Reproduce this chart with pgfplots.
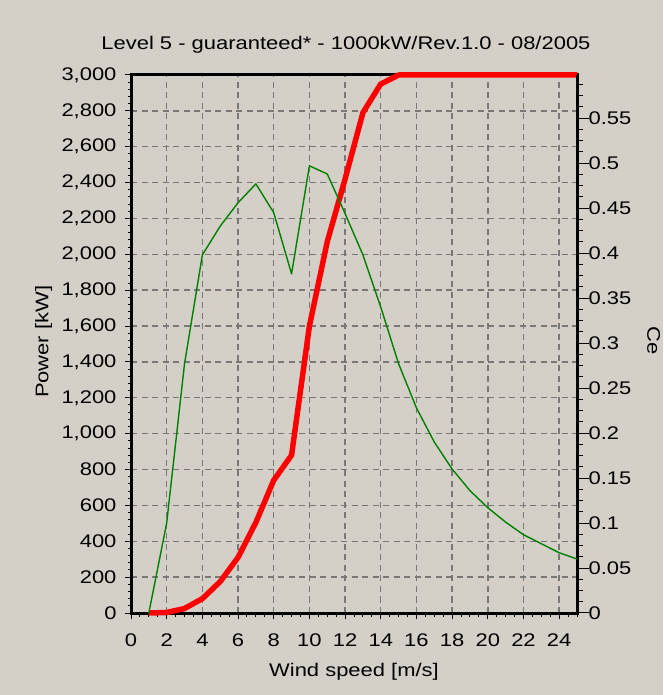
\documentclass[border=0pt]{standalone}
\usepackage{fontspec}
\setmainfont{Liberation Sans}[FakeStretch=1.2]
\usepackage{pgfplots}
\pgfplotsset{compat=1.18}
\definecolor{bg}{RGB}{212,208,200}
\definecolor{gridc}{RGB}{120,120,120}
\definecolor{cegreen}{RGB}{0,128,0}
\newcommand{\cf}{\fontsize{18.3}{21}\selectfont}

\pgfplotstableread{
x P
1 0
2 3
3 25
4 80
5 175
6 310
7 505
8 740
9 880
10 1600
11 2070
12 2420
13 2790
14 2950
15 3000
16 3000
17 3000
18 3000
19 3000
20 3000
21 3000
22 3000
23 3000
24 3000
25 3000
}\powertable

\pgfplotstableread{
x Ce
1 0
2 0.100
3 0.277
4 0.398
5 0.430
6 0.456
7 0.477
8 0.445
9 0.377
10 0.497
11 0.488
12 0.444
13 0.398
14 0.340
15 0.277
16 0.228
17 0.190
18 0.160
19 0.136
20 0.117
21 0.101
22 0.087
23 0.077
24 0.067
25 0.060
}\cetable

\begin{document}
\begin{tikzpicture}
\fill[bg] (0,0) rectangle (663pt,695pt);
\begin{axis}[
  at={(131pt,82pt)}, anchor=south west,
  width=446pt, height=538pt, scale only axis,
  xmin=0, xmax=25, ymin=0, ymax=3000,
  clip=false,
  axis line style={line width=3pt, black},
  xtick={0,2,...,24},
  xticklabels={0,2,4,6,8,10,12,14,16,18,20,22,24},
  minor xtick={0,0.5,...,25},
  ytick={0,200,...,3000},
  yticklabels={0,200,400,600,800,{1,000},{1,200},{1,400},{1,600},{1,800},{2,000},{2,200},{2,400},{2,600},{2,800},{3,000}},
  minor ytick={0,40,...,3000},
  xtick pos=bottom, ytick pos=left, tick align=outside,
  major tick length=6pt, minor tick length=3.5pt,
  every tick/.style={black, line width=1pt},
  grid=major,
  major grid style={gridc, line width=1.4pt, dash pattern=on 6pt off 4.5pt},
  tick label style={font=\cf},
  xticklabel style={yshift=-11pt},
  yticklabel style={xshift=-5pt},
  /pgf/number format/assume math mode=true,
  title={Level 5 - guaranteed* - 1000kW/Rev.1.0 - 08/2005},
  every axis title/.style={at={(axis description cs:0.482,1.0465)}, anchor=base, font=\cf},
  xlabel={Wind speed [m/s]},
  every axis x label/.style={at={(axis description cs:0.5,-0.1085)}, anchor=center, font=\cf},
  ylabel={Power [kW]},
  every axis y label/.style={at={(axis description cs:-0.196,0.504)}, anchor=center, rotate=90, font=\cf},
]
\addplot[red, line width=5.5pt, line join=round] table[x=x, y=P] {\powertable};
\end{axis}
\begin{axis}[
  at={(131pt,82pt)}, anchor=south west,
  width=446pt, height=538pt, scale only axis,
  xmin=0, xmax=25, ymin=0, ymax=0.598,
  axis x line=none, axis y line*=right,
  axis line style={line width=3pt, black, -},
  ytick={0,0.05,0.1,0.15,0.2,0.25,0.3,0.35,0.4,0.45,0.5,0.55},
  yticklabels={0,0.05,0.1,0.15,0.2,0.25,0.3,0.35,0.4,0.45,0.5,0.55},
  minor ytick={0.0125,0.025,0.0375,0.0625,0.075,0.0875,0.1125,0.125,0.1375,0.1625,0.175,0.1875,0.2125,0.225,0.2375,0.2625,0.275,0.2875,0.3125,0.325,0.3375,0.3625,0.375,0.3875,0.4125,0.425,0.4375,0.4625,0.475,0.4875,0.5125,0.525,0.5375,0.5625,0.575,0.5875},
  tick align=outside,
  major tick length=12pt, minor tick length=6pt,
  every tick/.style={black, line width=1pt},
  tick label style={font=\cf},
  yticklabel style={xshift=-4pt},
  /pgf/number format/assume math mode=true,
  ylabel={Ce},
  every axis y label/.style={at={(axis description cs:1.172,0.507)}, anchor=center, rotate=-90, font=\cf},
]
\addplot[cegreen, line width=1.4pt, line join=round] table[x=x, y=Ce] {\cetable};
\end{axis}
\end{tikzpicture}
\end{document}
